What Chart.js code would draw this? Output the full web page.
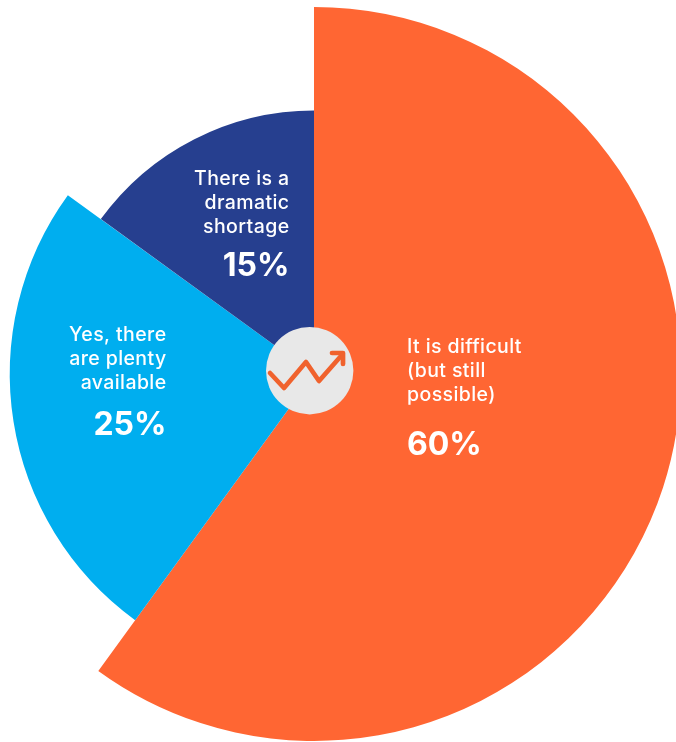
<!DOCTYPE html>
<html lang="en">
<head>
    <meta charset="UTF-8">
    <title>Availability</title>
    <script src="https://cdn.jsdelivr.net/npm/chart.js"></script>
    <style>
        html, body {
            margin: 0;
            padding: 0;
            width: 676px;
            height: 742px;
            overflow: hidden;
            background: #fff;
        }

        .chart-box {
            position: absolute;
            left: -53px;
            top: 7px;
            width: 734px;
            height: 734px;
        }
    </style>
</head>
<body>
<div class="chart-box"><canvas id="availabilityChart"></canvas></div>

<script>
    var categories = [
        ['It is difficult', '(but still', 'possible)'],
        ['Yes, there', 'are plenty', 'available'],
        ['There is a', 'dramatic', 'shortage']
    ];
    var shares = [60, 25, 15];
    // outer reach of each wedge, the orange one being the full radius
    var reach = [100, 82.9, 71.8];
    var colors = ['#ff6633', '#00aeef', '#263f8f'];
    var labelAnchors = [
        { x: 407, y: 352.5, pctY: 454.5, align: 'left' },
        { x: 166.5, y: 340.5, pctY: 434.5, align: 'right' },
        { x: 289.5, y: 184.5, pctY: 276, align: 'right' }
    ];

    // Grey hub in the middle with the rising arrow on top of it
    var hubPlugin = {
        id: 'hub',
        afterDatasetsDraw: function(chart) {
            var ctx = chart.ctx;
            var box = chart.canvas.parentNode;
            ctx.save();
            ctx.translate(-box.offsetLeft, -box.offsetTop);

            ctx.fillStyle = '#e8e8e8';
            ctx.beginPath();
            ctx.arc(309.7, 370.7, 43.7, 0, Math.PI * 2);
            ctx.fill();

            ctx.strokeStyle = '#f0622d';
            ctx.lineWidth = 4.7;
            ctx.lineCap = 'round';
            ctx.lineJoin = 'round';
            ctx.beginPath();
            ctx.moveTo(270, 373);
            ctx.lineTo(284, 388);
            ctx.lineTo(306, 362);
            ctx.lineTo(319, 381);
            ctx.lineTo(341, 356);
            ctx.stroke();
            ctx.beginPath();
            ctx.moveTo(332, 353);
            ctx.lineTo(343, 353);
            ctx.lineTo(343, 364);
            ctx.stroke();

            // wedge captions
            ctx.fillStyle = '#fff';
            ctx.textBaseline = 'alphabetic';
            categories.forEach(function(lines, i) {
                var a = labelAnchors[i];
                ctx.textAlign = a.align;
                ctx.letterSpacing = '0.4px';
                ctx.font = '500 19.5px Inter, sans-serif';
                lines.forEach(function(line, n) {
                    ctx.fillText(line, a.x, a.y + n * 24.4);
                });
                ctx.letterSpacing = '0px';
                ctx.font = '700 32px Inter, sans-serif';
                ctx.fillText(shares[i] + '%', a.x, a.pctY);
            });
            ctx.restore();
        }
    };

    var ctx = document.getElementById('availabilityChart').getContext('2d');
    var chart = new Chart(ctx, {
        type: 'polarArea',
        data: {
            labels: categories.map(function(l) { return l.join(' '); }),
            datasets: [{
                data: reach,
                backgroundColor: colors,
                borderWidth: 0,
                angle: function(c) { return shares[c.dataIndex] * 3.6; }
            }]
        },
        options: {
            responsive: true,
            maintainAspectRatio: false,
            animation: false,
            layout: { padding: 0 },
            scales: {
                r: { display: false, min: 0, max: 100 }
            },
            plugins: {
                legend: { display: false },
                tooltip: { enabled: false }
            }
        },
        plugins: [hubPlugin]
    });
</script>
</body>
</html>
